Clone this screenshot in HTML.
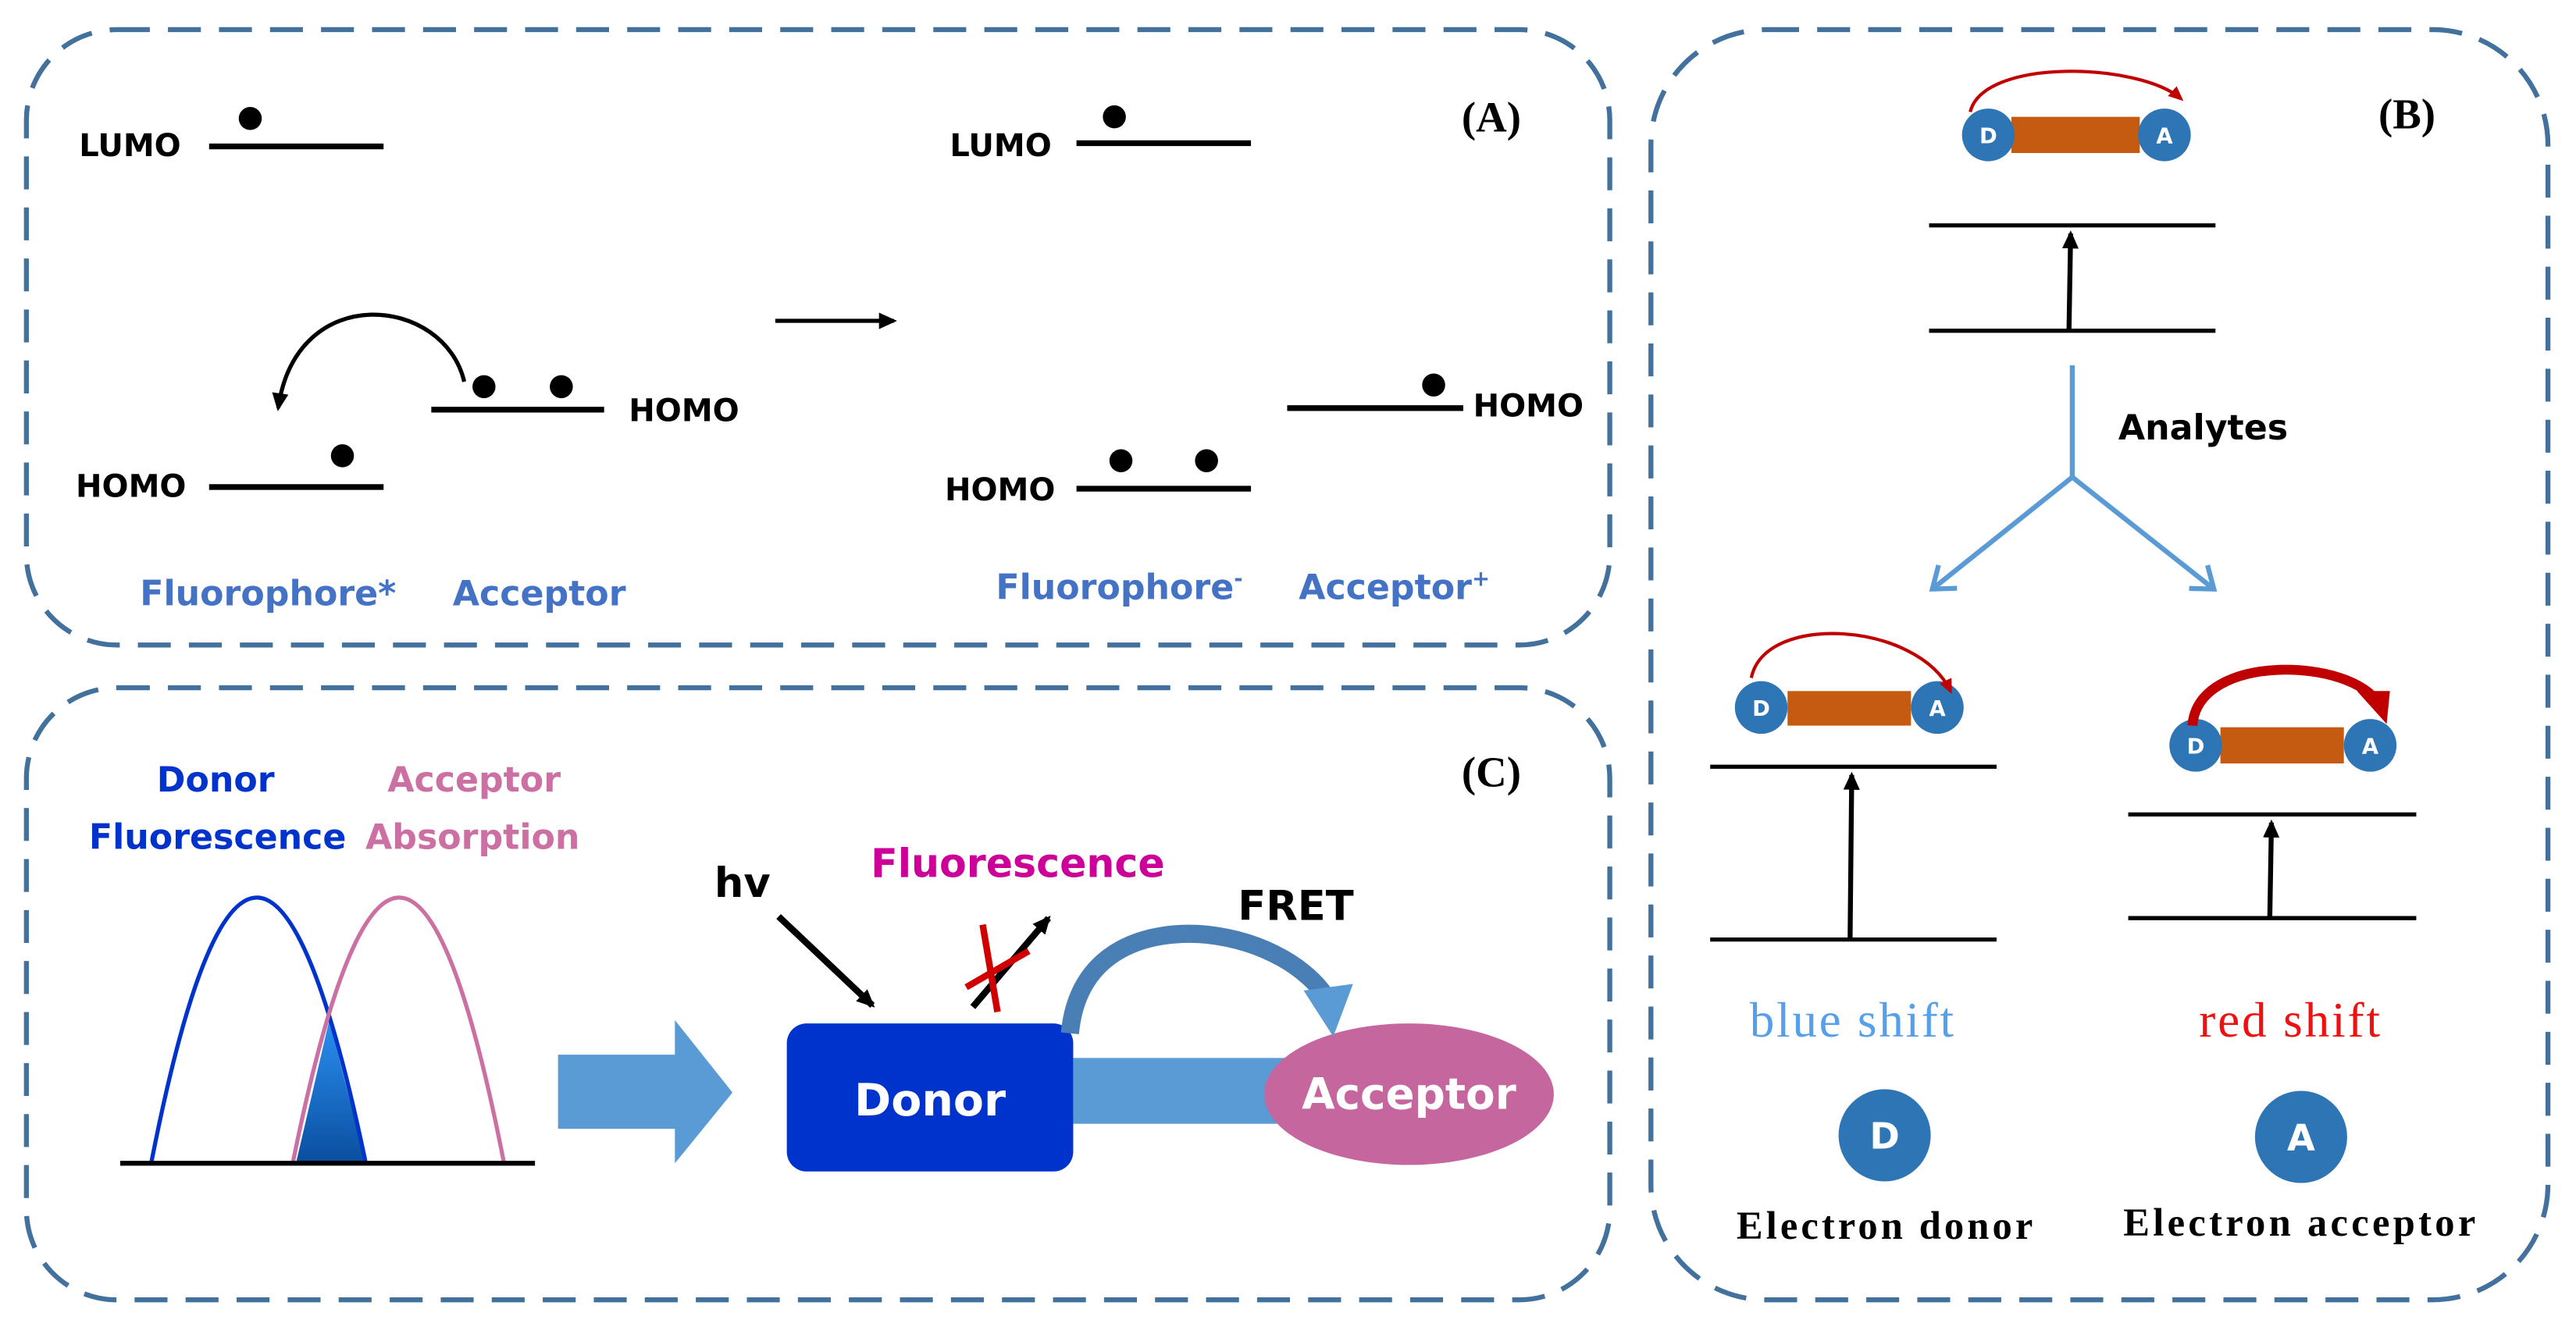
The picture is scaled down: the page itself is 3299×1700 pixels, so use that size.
<!DOCTYPE html>
<html><head><meta charset="utf-8"><style>
html,body{margin:0;padding:0;background:#fff;}
svg{display:block;}
.s{font-family:"DejaVu Sans","Liberation Sans",sans-serif;font-weight:bold;}
.sr{font-family:"Liberation Serif",serif;}
</style></head><body>
<svg width="3299" height="1700" viewBox="0 0 1565 806.5" xmlns="http://www.w3.org/2000/svg">
<defs>
<marker id="ah" markerWidth="12" markerHeight="12" refX="9" refY="6" orient="auto" markerUnits="userSpaceOnUse"><path d="M0,1 L11,6 L0,11 Z" fill="#000"/></marker>
<marker id="ahr" markerWidth="10" markerHeight="10" refX="7" refY="5" orient="auto" markerUnits="userSpaceOnUse"><path d="M0,1 L9,5 L0,9 Z" fill="#c00000"/></marker>
<marker id="ahb" markerWidth="22" markerHeight="22" refX="14" refY="11" orient="auto" markerUnits="userSpaceOnUse"><path d="M2,2 L14,11 L2,20" fill="none" stroke="#5b9bd5" stroke-width="3"/></marker>
<linearGradient id="g" x1="0" y1="0" x2="0" y2="1"><stop offset="0" stop-color="#2b8ff0"/><stop offset="1" stop-color="#0a4fa0"/></linearGradient>
</defs>
<g fill="none" stroke="#41719c" stroke-width="3" stroke-dasharray="20,11">
<rect x="16" y="18" width="962" height="374" rx="55"/>
<rect x="16" y="418" width="962" height="372" rx="55"/>
<rect x="1003" y="18" width="545" height="772" rx="70"/>
</g>
<!-- Panel A -->
<g stroke="#000" stroke-width="3.5">
<line x1="127" y1="89" x2="233" y2="89"/><line x1="127" y1="296" x2="233" y2="296"/>
<line x1="262" y1="249" x2="367" y2="249"/>
<line x1="654" y1="87" x2="760" y2="87"/><line x1="654" y1="297" x2="760" y2="297"/>
<line x1="782" y1="248" x2="889" y2="248"/>
</g>
<g fill="#000">
<circle cx="152" cy="72" r="7"/><circle cx="208" cy="277" r="7"/>
<circle cx="294" cy="235" r="7"/><circle cx="341" cy="235" r="7"/>
<circle cx="677" cy="71" r="7"/><circle cx="681" cy="280" r="7"/><circle cx="733" cy="280" r="7"/>
<circle cx="871" cy="234" r="7"/>
</g>
<path d="M282,232 C270,180 180,170 169,248" fill="none" stroke="#000" stroke-width="2.5" marker-end="url(#ah)"/>
<line x1="471" y1="195" x2="543" y2="195" stroke="#000" stroke-width="2.5" marker-end="url(#ah)"/>
<g class="s" font-size="19" fill="#000">
<text x="48" y="95">LUMO</text><text x="46" y="302">HOMO</text><text x="382" y="256">HOMO</text>
<text x="577" y="95">LUMO</text><text x="574" y="304">HOMO</text><text x="895" y="253">HOMO</text>
</g>
<text x="888" y="80" class="sr" font-weight="bold" font-size="26">(A)</text>
<g class="s" font-size="21" fill="#4472c4">
<text x="85" y="368">Fluorophore*</text><text x="275" y="368">Acceptor</text>
<text x="605" y="364">Fluorophore<tspan font-size="13" dy="-8">-</tspan></text>
<text x="789" y="364">Acceptor<tspan font-size="13" dy="-8">+</tspan></text>
</g>
<!-- Panel C -->
<text x="888" y="478" class="sr" font-weight="bold" font-size="26">(C)</text>
<g class="s" font-size="21">
<text x="131" y="481" text-anchor="middle" fill="#0033cc">Donor</text>
<text x="54" y="516" fill="#0033cc">Fluorescence</text>
<text x="288" y="481" text-anchor="middle" fill="#cc6fa3">Acceptor</text>
<text x="222" y="516" fill="#cc6fa3">Absorption</text>
</g>
<path d="M180,706 L200,620 L222,706 Z" fill="url(#g)"/>
<path d="M92,706 Q155,385 222,706" fill="none" stroke="#0033cc" stroke-width="2.5"/>
<path d="M178,706 Q243,385 306,706" fill="none" stroke="#cc6fa3" stroke-width="2.5"/>
<line x1="73" y1="707" x2="325" y2="707" stroke="#000" stroke-width="3"/>
<path d="M339,641 L410,641 L410,620 L445,664 L410,707 L410,686 L339,686 Z" fill="#5b9bd5"/>
<rect x="652" y="643" width="140" height="40" fill="#5b9bd5"/>
<rect x="478" y="622" width="174" height="90" rx="12" fill="#0033cc"/>
<text x="565" y="678" text-anchor="middle" class="s" font-size="27" fill="#fff">Donor</text>
<ellipse cx="856" cy="665" rx="88" ry="43" fill="#c5679e"/>
<text x="856" y="674" text-anchor="middle" class="s" font-size="26" fill="#fff">Acceptor</text>
<text x="434" y="545" class="s" font-size="25">hv</text>
<line x1="473" y1="557" x2="530" y2="611" stroke="#000" stroke-width="4" marker-end="url(#ah)"/>
<text x="529" y="533" class="s" font-size="24" fill="#cc0099" font-weight="normal">Fluorescence</text>
<line x1="591" y1="612" x2="637" y2="558" stroke="#000" stroke-width="4" marker-end="url(#ah)"/>
<line x1="597" y1="562" x2="606" y2="615" stroke="#d00000" stroke-width="4"/>
<line x1="587" y1="600" x2="625" y2="578" stroke="#d00000" stroke-width="4"/>
<text x="752" y="559" class="s" font-size="25">FRET</text>
<path d="M650,628 C655,575 700,565 733,568 C770,572 795,590 805,605" fill="none" stroke="#4a7fb5" stroke-width="11"/>
<path d="M792,602 L822,598 L810,630 Z" fill="#5b9bd5"/>
<!-- Panel B -->
<text x="1445" y="78" class="sr" font-weight="bold" font-size="26">(B)</text>
<g stroke="#000" stroke-width="2.5">
<line x1="1172" y1="137" x2="1346" y2="137"/><line x1="1172" y1="201" x2="1346" y2="201"/>
<line x1="1039" y1="466" x2="1213" y2="466"/><line x1="1039" y1="571" x2="1213" y2="571"/>
<line x1="1293" y1="495" x2="1468" y2="495"/><line x1="1293" y1="558" x2="1468" y2="558"/>
</g>
<g stroke="#000" stroke-width="3" marker-end="url(#ah)">
<line x1="1257" y1="201" x2="1258" y2="142"/>
<line x1="1124" y1="571" x2="1125" y2="471"/>
<line x1="1379" y1="558" x2="1380" y2="500"/>
</g>
<g stroke="#5b9bd5" stroke-width="3" fill="none">
<polyline points="1259,222 1259,290"/>
<line x1="1259" y1="290" x2="1174" y2="358" marker-end="url(#ahb)"/>
<line x1="1259" y1="290" x2="1345" y2="358" marker-end="url(#ahb)"/>
</g>
<text x="1287" y="267" class="s" font-size="21">Analytes</text>
<g>
<rect x="1222" y="71" width="78" height="22" fill="#c55a11"/>
<rect x="1086" y="420" width="75" height="21" fill="#c55a11"/>
<rect x="1349" y="442" width="75" height="22" fill="#c55a11"/>
<g fill="#2e75b6"><circle cx="1208" cy="82" r="16"/><circle cx="1315" cy="82" r="16"/>
<circle cx="1070" cy="430" r="16"/><circle cx="1177" cy="430" r="16"/>
<circle cx="1334" cy="453" r="16"/><circle cx="1440" cy="453" r="16"/>
<circle cx="1145" cy="690" r="28"/><circle cx="1398" cy="691" r="28"/></g>
<g class="s" font-size="13" fill="#fff" text-anchor="middle">
<text x="1208" y="87">D</text><text x="1315" y="87">A</text>
<text x="1070" y="435">D</text><text x="1177" y="435">A</text>
<text x="1334" y="458">D</text><text x="1440" y="458">A</text>
<text x="1145" y="698" font-size="22">D</text><text x="1398" y="699" font-size="22">A</text>
</g>
</g>
<path d="M1197,68 C1205,35 1300,38 1325,60" fill="none" stroke="#c00000" stroke-width="2" marker-end="url(#ahr)"/>
<path d="M1064,412 C1072,372 1165,378 1185,420" fill="none" stroke="#c00000" stroke-width="2" marker-end="url(#ahr)"/>
<path d="M1332,441 C1335,396 1430,400 1445,428" fill="none" stroke="#c00000" stroke-width="6"/>
<path d="M1432,420 L1452,420 L1450,440 Z" fill="#c00000"/>
<text x="1125" y="630" text-anchor="middle" class="sr" font-size="30" fill="#55a0e8" textLength="124">blue shift</text>
<text x="1391" y="630" text-anchor="middle" class="sr" font-size="30" fill="#ee1111" textLength="110">red shift</text>
<text x="1145" y="753" text-anchor="middle" class="sr" font-weight="bold" font-size="24" textLength="180">Electron donor</text>
<text x="1397" y="751" text-anchor="middle" class="sr" font-weight="bold" font-size="24" textLength="214">Electron acceptor</text>
</svg>
</body></html>
